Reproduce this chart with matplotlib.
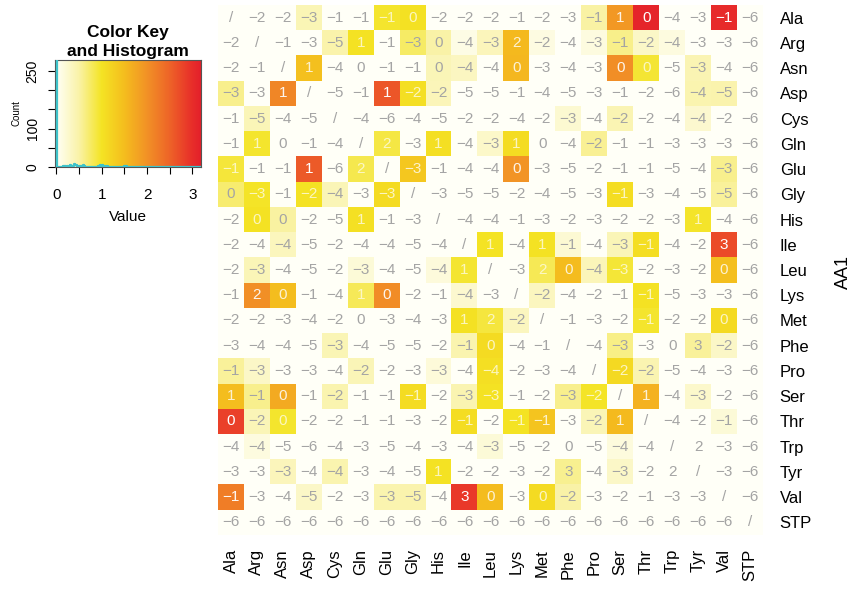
import numpy as np
import matplotlib
matplotlib.use("Agg")
import matplotlib.pyplot as plt
from matplotlib.colors import LinearSegmentedColormap

plt.rcParams['font.family'] = ['Liberation Sans', 'DejaVu Sans']

aa = ["Ala", "Arg", "Asn", "Asp", "Cys", "Gln", "Glu", "Gly", "His", "Ile",
      "Leu", "Lys", "Met", "Phe", "Pro", "Ser", "Thr", "Trp", "Tyr", "Val", "STP"]

# numbers printed in the cells (None = diagonal "/")
N = None
labels = [
    [N, -2, -2, -3, -1, -1, -1, 0, -2, -2, -2, -1, -2, -3, -1, 1, 0, -4, -3, -1, -6],
    [-2, N, -1, -3, -5, 1, -1, -3, 0, -4, -3, 2, -2, -4, -3, -1, -2, -4, -3, -3, -6],
    [-2, -1, N, 1, -4, 0, -1, -1, 0, -4, -4, 0, -3, -4, -3, 0, 0, -5, -3, -4, -6],
    [-3, -3, 1, N, -5, -1, 1, -2, -2, -5, -5, -1, -4, -5, -3, -1, -2, -6, -4, -5, -6],
    [-1, -5, -4, -5, N, -4, -6, -4, -5, -2, -2, -4, -2, -3, -4, -2, -2, -4, -4, -2, -6],
    [-1, 1, 0, -1, -4, N, 2, -3, 1, -4, -3, 1, 0, -4, -2, -1, -1, -3, -3, -3, -6],
    [-1, -1, -1, 1, -6, 2, N, -3, -1, -4, -4, 0, -3, -5, -2, -1, -1, -5, -4, -3, -6],
    [0, -3, -1, -2, -4, -3, -3, N, -3, -5, -5, -2, -4, -5, -3, -1, -3, -4, -5, -5, -6],
    [-2, 0, 0, -2, -5, 1, -1, -3, N, -4, -4, -1, -3, -2, -3, -2, -2, -3, 1, -4, -6],
    [-2, -4, -4, -5, -2, -4, -4, -5, -4, N, 1, -4, 1, -1, -4, -3, -1, -4, -2, 3, -6],
    [-2, -3, -4, -5, -2, -3, -4, -5, -4, 1, N, -3, 2, 0, -4, -3, -2, -3, -2, 0, -6],
    [-1, 2, 0, -1, -4, 1, 0, -2, -1, -4, -3, N, -2, -4, -2, -1, -1, -5, -3, -3, -6],
    [-2, -2, -3, -4, -2, 0, -3, -4, -3, 1, 2, -2, N, -1, -3, -2, -1, -2, -2, 0, -6],
    [-3, -4, -4, -5, -3, -4, -5, -5, -2, -1, 0, -4, -1, N, -4, -3, -3, 0, 3, -2, -6],
    [-1, -3, -3, -3, -4, -2, -2, -3, -3, -4, -4, -2, -3, -4, N, -2, -2, -5, -4, -3, -6],
    [1, -1, 0, -1, -2, -1, -1, -1, -2, -3, -3, -1, -2, -3, -2, N, 1, -4, -3, -2, -6],
    [0, -2, 0, -2, -2, -1, -1, -3, -2, -1, -2, -1, -1, -3, -2, 1, N, -4, -2, -1, -6],
    [-4, -4, -5, -6, -4, -3, -5, -4, -3, -4, -3, -5, -2, 0, -5, -4, -4, N, 2, -3, -6],
    [-3, -3, -3, -4, -4, -3, -4, -5, 1, -2, -2, -3, -2, 3, -4, -3, -2, 2, N, -3, -6],
    [-1, -3, -4, -5, -2, -3, -3, -5, -4, 3, 0, -3, 0, -2, -3, -2, -1, -3, -3, N, -6],
    [-6] * 20 + [N],
]

values = [
    [0, 0, 0, 0.42, 0, 0, 0.96, 1.04, 0, 0, 0, 0, 0, 0, 0.52, 1.92, 3.12, 0, 0, 3.02, 0],
    [0, 0, 0, 0, 0.48, 1.01, 0, 0.76, 0.51, 0.12, 0.38, 1.55, 0.14, 0, 0.16, 0.62, 0.31, 0.15, 0, 0, 0],
    [0, 0, 0, 1.46, 0, 0, 0, 0, 0.41, 0.34, 0, 1.58, 0, 0, 0, 2.04, 0.94, 0, 0.43, 0, 0],
    [0.61, 0, 2.12, 0, 0, 0, 2.62, 1.06, 0.39, 0, 0, 0, 0, 0, 0, 0, 0, 0, 0.45, 0.47, 0],
    [0, 0.41, 0, 0, 0, 0, 0, 0, 0, 0, 0, 0, 0, 0.24, 0, 0.43, 0, 0, 0.26, 0, 0],
    [0, 0.97, 0, 0, 0, 0, 0.88, 0, 1.07, 0, 0.29, 1.1, 0, 0, 0.58, 0, 0, 0, 0, 0, 0],
    [0.92, 0, 0, 2.58, 0, 0.84, 0, 1.38, 0, 0, 0, 1.98, 0, 0, 0, 0, 0, 0, 0, 0.6, 0],
    [0.72, 0.99, 0, 1.03, 0.4, 0, 1.12, 0, 0, 0, 0, 0, 0, 0, 0, 1.09, 0, 0, 0, 0.55, 0],
    [0, 1.02, 0.53, 0, 0, 1.05, 0, 0, 0, 0, 0, 0, 0, 0, 0, 0, 0, 0, 0.98, 0, 0],
    [0, 0, 0.37, 0, 0, 0, 0, 0, 0, 0, 1.0, 0, 1.03, 0.23, 0, 0.41, 1.08, 0, 0, 2.72, 0],
    [0, 0.4, 0, 0, 0, 0.2, 0, 0, 0.18, 0.95, 0, 0, 0.82, 1.52, 0.39, 0.93, 0, 0, 0, 1.48, 0],
    [0, 2.02, 1.5, 0, 0, 0.8, 2.06, 0, 0, 0.25, 0, 0, 0.36, 0, 0, 0, 1.01, 0, 0, 0, 0],
    [0, 0, 0, 0, 0, 0, 0, 0, 0, 1.04, 0.9, 0.35, 0, 0, 0, 0, 0.97, 0, 0, 1.13, 0],
    [0, 0, 0, 0, 0.42, 0, 0, 0, 0, 0.45, 1.11, 0, 0, 0, 0, 0.63, 0, 0, 0.56, 0.3, 0],
    [0.55, 0.3, 0, 0, 0, 0.4, 0, 0, 0.19, 0, 1.06, 0, 0, 0, 0, 1.14, 0.44, 0, 0, 0, 0],
    [1.5, 0.6, 1.72, 0, 0.46, 0, 0, 1.1, 0, 0.44, 1.02, 0, 0, 0.6, 0.99, 0, 1.62, 0, 0.28, 0, 0],
    [2.82, 0.4, 0.96, 0, 0, 0, 0, 0, 0, 1.09, 0, 1.0, 1.42, 0, 0.41, 1.54, 0, 0, 0, 0.2, 0],
    [0, 0.15, 0, 0, 0, 0, 0, 0, 0, 0, 0.2, 0, 0, 0, 0, 0.17, 0, 0, 0, 0, 0],
    [0, 0, 0.38, 0, 0.45, 0, 0, 0, 1.01, 0, 0, 0, 0, 0.59, 0, 0.3, 0, 0, 0, 0, 0],
    [2.22, 0, 0, 0.3, 0, 0, 0.45, 0.47, 0, 2.9, 1.52, 0, 1.12, 0.5, 0, 0, 0, 0, 0, 0, 0],
    [0] * 21,
]

vmax = 3.19
stops = [(0.0, "#FFFFF7"), (0.5, "#FAF3A8"), (1.0, "#F4E424"), (1.5, "#F5BE1E"),
         (2.0, "#F29226"), (2.5, "#EE6428"), (3.0, "#E82E2A"), (vmax, "#E4202A")]
cmap = LinearSegmentedColormap.from_list("key", [(v / vmax, c) for v, c in stops])

vals = np.array(values, dtype=float)

fig = plt.figure(figsize=(8.52, 5.92), dpi=100)

# heatmap
ax = fig.add_axes([218 / 852, 57 / 592, 545 / 852, 530 / 592])
ax.imshow(vals, cmap=cmap, vmin=0, vmax=vmax, aspect="auto", interpolation="nearest")
for i in range(len(aa)):
    for j in range(len(aa)):
        v = vals[i, j]
        lab = labels[i][j]
        s = "/" if lab is None else str(lab).replace("-", "\u2212")
        if v >= 0.8:
            ax.text(j, i, s, ha="center", va="center", fontsize=11,
                    color="white", alpha=min(1.0, 0.5 + 0.2 * v))
        else:
            ax.text(j, i, s, ha="center", va="center", fontsize=11, color="#A4A4A4")
for sp in ax.spines.values():
    sp.set_visible(False)
ax.yaxis.tick_right()
ax.set_yticks(range(len(aa)))
ax.set_yticklabels(aa, fontsize=12)
ax.set_xticks(range(len(aa)))
ax.set_xticklabels(aa, rotation=90, fontsize=12)
ax.tick_params(length=0)
ax.tick_params(axis="y", pad=12)
ax.tick_params(axis="x", pad=10)
fig.text(843 / 852, 1 - 272 / 592, "AA1", rotation=90, ha="center", va="center", fontsize=13)

# colour key with histogram
kx = fig.add_axes([55 / 852, 425 / 592, 146 / 852, 107 / 592])
grad = np.linspace(0, vmax, 256).reshape(1, -1)
ymax = 279
kx.imshow(grad, cmap=cmap, vmin=0, vmax=vmax, aspect="auto",
          extent=[0, vmax, 0, ymax], interpolation="bilinear")
counts, edges = np.histogram(vals.ravel(), bins=np.linspace(0, vmax, 161))
kx.step(edges, np.append(counts, counts[-1]), where="post", color="#3EC3CA",
        lw=1.6, zorder=5)
kx.set_xlim(-0.03, vmax)
kx.set_ylim(0, ymax)
kx.set_xticks(np.arange(0, 3.01, 0.5))
kx.set_xticklabels(["0", "", "1", "", "2", "", "3"], fontsize=11)
kx.set_yticks([0, 50, 100, 150, 200, 250])
kx.set_yticklabels(["0", "", "100", "", "", "250"], fontsize=10, rotation=90, va="center")
kx.tick_params(length=5, width=0.8)
kx.tick_params(axis="x", pad=10)
kx.tick_params(axis="y", pad=6)
kx.set_xlabel("Value", fontsize=11, labelpad=6)
kx.set_ylabel("Count", fontsize=7, labelpad=3)
for sp in kx.spines.values():
    sp.set_linewidth(0.8)
    sp.set_color("#555555")
fig.text(128 / 852, 1 - 42 / 592, "Color Key\nand Histogram", ha="center", va="center",
         fontsize=12.5, fontweight="bold", linespacing=1.4)

fig.savefig("out.png", dpi=100)
